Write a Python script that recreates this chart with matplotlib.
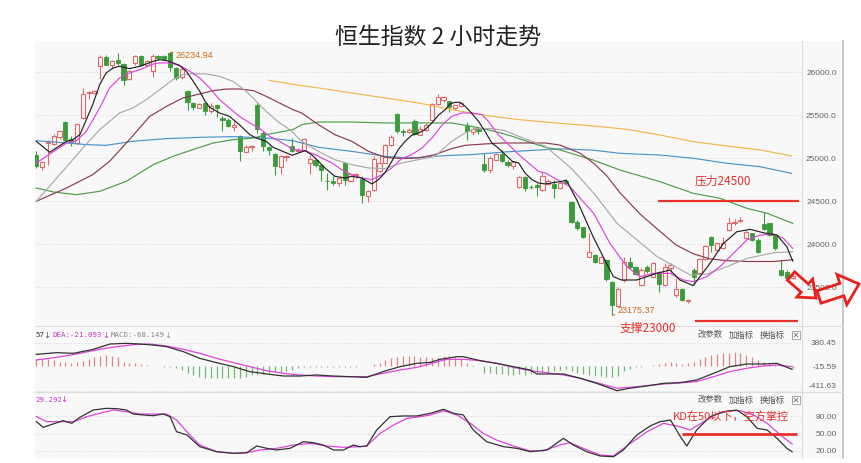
import numpy as np
import matplotlib
matplotlib.use('Agg')
import matplotlib.pyplot as plt
from matplotlib.patches import Rectangle, Polygon
from matplotlib.lines import Line2D

plt.rcParams['font.family'] = ['Liberation Sans', 'Noto Sans CJK SC', 'DejaVu Sans']
CJK = ['Noto Sans CJK SC', 'DejaVu Sans']

###########
# Candle data (2 hour bars)

opens = [25043, 24895, 25178, 25167, 25244, 25422, 25229, 25178, 25469, 25760,
         25760, 26070, 26174, 26081, 26147, 26097, 25926, 26109, 26186, 26081,
         26019, 26186, 26186, 26221, 26050, 25942, 25787, 25643, 25585, 25643,
         25554, 25616, 25469, 25450, 25361, 25256, 25074, 25128, 25616, 25295,
         25128, 25054, 24895, 25011, 25140, 25090, 25101, 24946, 24985, 24919,
         24740, 24733, 24713, 24946, 24733, 24806, 24764, 24558, 24636, 24849,
         24946, 25151, 25516, 25322, 25306, 25430, 25275, 25333, 25442, 25632,
         25682, 25663, 25585, 25605, 25372, 25306, 25345, 24934, 24868, 24984,
         25050, 24957, 24907, 24663, 24779, 24670, 24686, 24636, 24700, 24702,
         24651, 24740, 24496, 24264, 24198, 23857, 23876, 23787, 23818, 23566,
         23283, 23585, 23798, 23740, 23527, 23740, 23624, 23682, 23527, 23721,
         23411, 23477, 23345, 23702, 23671, 23826, 24081, 23934, 23953, 24166,
         24251, 24275, 24070, 24128, 24050, 24240, 24244, 24108, 23701, 23680,
         23610]
highs = [25081, 24965, 25217, 25283, 25326, 25430, 25256, 25411, 25818, 25783,
         25798, 26205, 26197, 26147, 26225, 26109, 26031, 26197, 26197, 26147,
         26213, 26197, 26197, 26234.94, 26058, 26050, 25798, 25655, 25643, 25655,
         25643, 25632, 25488, 25469, 25430, 25275, 25151, 25151, 25643, 25314,
         25140, 25062, 25035, 25035, 25237, 25120, 25237, 25043, 25004, 24934,
         24830, 24791, 24779, 24957, 24830, 24830, 24791, 24636, 25023, 25023,
         25167, 25275, 25527, 25345, 25353, 25461, 25372, 25411, 25643, 25748,
         25721, 25671, 25624, 25655, 25422, 25361, 25361, 25062, 25023, 25062,
         25101, 24984, 24973, 24791, 24791, 24686, 24713, 24841, 24760, 24748,
         24730, 24760, 24508, 24283, 24206, 24128, 23888, 23865, 23830, 23577,
         23500, 23857, 23857, 23748, 23721, 23760, 23798, 23694, 23779, 23787,
         23605, 23488, 23360, 23721, 23837, 23992, 24097, 24019, 24089, 24321,
         24291, 24314, 24167, 24136, 24070, 24380, 24250, 24115, 23817, 23700,
         23650]
lows = [24888, 24860, 24926, 25159, 25229, 25198, 25140, 25167, 25461, 25694,
        25748, 25926, 26081, 26043, 26089, 25849, 25915, 26081, 26070, 26070,
        25942, 26147, 26140, 26019, 25915, 25926, 25566, 25566, 25585, 25500,
        25527, 25477, 25322, 25361, 25322, 24973, 25070, 25090, 25295, 25081,
        25035, 24810, 24818, 24965, 25070, 25070, 25081, 24818, 24895, 24733,
        24636, 24694, 24674, 24686, 24725, 24771, 24481, 24489, 24624, 24841,
        24942, 25140, 25295, 25256, 25295, 25267, 25267, 25322, 25430, 25624,
        25655, 25539, 25566, 25593, 25217, 25275, 25283, 24841, 24829, 24980,
        24957, 24895, 24880, 24655, 24616, 24647, 24558, 24624, 24690, 24535,
        24640, 24700, 24244, 24167, 24070, 23849, 23787, 23780, 23577, 23175.37,
        23275, 23566, 23709, 23643, 23516, 23670, 23616, 23450, 23516, 23670,
        23391, 23345, 23322, 23527, 23663, 23818, 23915, 23926, 23942, 24159,
        24224, 24260, 24058, 24043, 23903, 24170, 24097, 23934, 23630, 23590,
        23600]
closes = [24907, 24957, 25190, 25256, 25314, 25213, 25190, 25399, 25748, 25775,
          25787, 26174, 26089, 26136, 26109, 25915, 26019, 26186, 26081, 26136,
          26186, 26167, 26159, 26058, 25934, 26043, 25655, 25593, 25632, 25547,
          25605, 25585, 25450, 25372, 25391, 25081, 25136, 25140, 25345, 25140,
          25101, 24907, 25023, 25031, 25081, 25101, 25225, 24996, 24926, 24868,
          24733, 24713, 24771, 24752, 24818, 24818, 24577, 24624, 24996, 24946,
          25151, 25248, 25314, 25310, 25333, 25283, 25341, 25391, 25632, 25709,
          25709, 25593, 25616, 25643, 25322, 25345, 25318, 24868, 25004, 25050,
          24965, 24919, 24957, 24779, 24655, 24663, 24663, 24791, 24740, 24651,
          24717, 24710, 24264, 24186, 24081, 23915, 23798, 23857, 23593, 23295,
          23477, 23798, 23733, 23655, 23702, 23694, 23779, 23539, 23740, 23760,
          23477, 23353, 23353, 23624, 23826, 23981, 23992, 24011, 24019, 24244,
          24264, 24283, 24147, 24050, 23915, 24180, 24108, 23953, 23643, 23604,
          23630]

###########
# Moving average lines (position in bars, value)

ma5_x = [0, 2.3, 5.2, 6.3, 7.5, 9.7, 10.9, 12.0, 13.2, 14.3, 16.0, 17.8, 20.1, 21.2, 22.4, 23.5,
         24.6, 25.8, 26.9, 28.1, 29.0, 29.8, 31.5, 33.2, 34.9, 36.7, 37.8, 39.5, 40.7, 43.0, 44.0,
         46.2, 47.3, 48.5, 49.6, 51.3, 53.1, 54.2, 55.9, 57.7, 58.8, 59.9, 61.1, 62.2, 63.4, 64.5,
         65.7, 66.8, 68.0, 69.1, 70.3, 71.1, 72.0, 72.8, 73.7, 74.8, 76.0, 77.1, 78.3, 79.4, 80.6,
         81.8, 82.9, 84.0, 85.2, 86.3, 87.5, 90.0, 91.1, 92.9, 95.7, 98.0, 99.2, 100.6, 103.2,
         104.6, 106.6, 108.9, 110.6, 112.9, 115.8, 118.1, 120.4, 122.7, 124.9, 127.3, 129.0, 130.0]
ma5_y = [25198, 25070, 25198, 25217, 25275, 25624, 25857, 25992, 26050, 26070, 26043, 26070,
         26128, 26147, 26136, 26109, 26081, 26012, 25903, 25779, 25663, 25593, 25527, 25488,
         25391, 25275, 25236, 25198, 25128, 25062, 25035, 25089, 25043, 24965, 24888, 24791,
         24771, 24791, 24771, 24702, 24752, 24829, 24965, 25101, 25198, 25267, 25295, 25333,
         25411, 25500, 25566, 25632, 25651, 25651, 25605, 25527, 25430, 25314, 25178, 25120,
         25043, 24965, 24946, 24829, 24752, 24713, 24702, 24728, 24745, 24515, 24088, 23779,
         23623, 23585, 23585, 23616, 23662, 23701, 23585, 23520, 23779, 24011, 24146, 24174,
         24135, 24108, 23972, 23805]

ma10_x = [0, 5.2, 6.9, 8.6, 10.9, 12.6, 14.3, 16.0, 17.8, 20.1, 21.2, 22.9, 24.6, 26.4, 28.1,
          29.8, 31.5, 33.2, 34.9, 36.7, 38.4, 40.1, 41.8, 43.5, 44.5, 46.2, 48.5, 50.8, 52.5,
          54.2, 56.0, 57.7, 59.4, 61.1, 62.8, 64.5, 66.3, 68.0, 69.8, 71.4, 73.1, 74.8, 76.6,
          77.7, 79.4, 81.2, 82.9, 84.6, 86.3, 87.5, 91.7, 95.8, 98.6, 101.5, 103.8, 106.0,
          108.9, 111.2, 112.9, 115.2, 117.5, 119.8, 122.1, 124.4, 126.7, 128.4, 130.0]
ma10_y = [24946, 25178, 25205, 25314, 25585, 25818, 25934, 25992, 26031, 26097, 26109, 26109,
          26081, 26012, 25934, 25818, 25682, 25585, 25488, 25411, 25345, 25256, 25198, 25128,
          25101, 25089, 25023, 24946, 24868, 24810, 24771, 24752, 24810, 24888, 24996, 25043,
          25120, 25236, 25391, 25488, 25527, 25527, 25508, 25430, 25275, 25159, 25043, 24946,
          24849, 24829, 24670, 24360, 24011, 23740, 23623, 23662, 23662, 23585, 23566, 23623,
          23740, 23895, 24050, 24108, 24120, 24070, 23953]

ma20_x = [0, 5.2, 8.0, 10.9, 14.3, 16.6, 18.9, 21.2, 23.5, 25.2, 26.9, 29.2, 31.5, 33.8, 36.1,
          37.8, 39.5, 41.8, 42.8, 44.1, 45.6, 48.5, 51.3, 54.2, 57.1, 59.9, 62.8, 65.7, 68.5,
          71.4, 73.7, 75.4, 78.3, 80.6, 82.9, 85.2, 87.5, 92.0, 96.0, 99.8, 106.7, 112.4,
          115.3, 118.7, 122.2, 126.8, 130.0]
ma20_y = [24500, 24900, 25120, 25333, 25527, 25585, 25682, 25798, 25915, 25973, 25984, 25981,
          25953, 25895, 25779, 25663, 25547, 25411, 25370, 25300, 25198, 25081, 24984, 24926,
          24888, 24880, 24946, 24984, 25023, 25198, 25295, 25345, 25345, 25322, 25256, 25198,
          25140, 24880, 24580, 24244, 23857, 23643, 23655, 23740, 23837, 23903, 23914]

ma30_x = [0, 5.2, 9.7, 12.6, 16.0, 19.5, 22.4, 25.2, 28.1, 30.4, 32.7, 35.0, 37.3, 39.5, 41.8,
          44.1, 45.6, 48.5, 51.3, 54.2, 57.1, 59.9, 62.8, 65.7, 68.5, 71.4, 73.7, 77.1, 80.0,
          82.9, 85.2, 87.5, 90.0, 93.5, 95.8, 98.0, 100.3, 103.8, 107.2, 110.0, 112.9, 115.8,
          118.7, 122.1, 126.7, 130.0]
ma30_y = [24500, 24655, 24810, 24965, 25217, 25488, 25605, 25702, 25748, 25787, 25806, 25806,
          25787, 25721, 25643, 25566, 25527, 25391, 25275, 25198, 25081, 25012, 24996, 25004,
          25043, 25113, 25151, 25167, 25178, 25178, 25178, 25178, 25154, 25058, 24942, 24800,
          24600, 24350, 24150, 23990, 23890, 23830, 23810, 23800, 23800, 23820]

ma60_x = [0, 2.9, 6.9, 10.9, 15.5, 20.1, 23.5, 26.9, 30.4, 33.8, 37.3, 39.5, 44.1, 45.6, 48.5,
          54.2, 59.9, 65.7, 71.4, 74.8, 78.3, 81.8, 85.2, 87.5, 90.0, 95.7, 100.3, 107.2,
          112.9, 117.5, 122.1, 125.6, 130.0]
ma60_y = [24655, 24609, 24577, 24616, 24733, 24926, 25023, 25101, 25178, 25217, 25236, 25275,
          25333, 25391, 25422, 25422, 25411, 25411, 25411, 25372, 25322, 25256, 25178, 25128,
          25097, 24980, 24864, 24728, 24593, 24535, 24419, 24361, 24244]

ma120_x = [0, 5.2, 8.6, 12.0, 16.6, 22.4, 28.1, 33.8, 39.5, 44.1, 48.5, 54.2, 59.9, 64.3, 70.3,
           74.8, 80.6, 87.5, 90.0, 95.7, 100.3, 107.2, 112.9, 118.7, 124.4, 129.8]
ma120_y = [25205, 25178, 25159, 25151, 25198, 25229, 25244, 25252, 25236, 25205, 25128, 25081,
           25023, 25004, 25031, 25043, 25074, 25101, 25110, 25095, 25058, 25038, 25000, 24942,
           24902, 24825]

ma250_x = [40.0, 44.1, 48.5, 54.2, 59.9, 65.7, 68.5, 71.4, 77.1, 82.9, 87.5, 90.0, 95.7, 101.5,
           107.2, 112.9, 118.7, 124.4, 129.8]
ma250_y = [25907, 25860, 25818, 25760, 25702, 25643, 25605, 25566, 25500, 25450, 25422, 25407,
           25376, 25337, 25271, 25193, 25143, 25097, 25027]

###########
# MACD panel

dif_x = [0, 3.5, 6.4, 9.8, 12.7, 15.5, 17.8, 20.1, 22.4, 25.3, 28.1, 31.0, 33.9, 36.7, 39.6,
         42.5, 45.3, 48.2, 51.0, 53.9, 56.8, 59.6, 62.5, 65.4, 67.7, 69.4, 72.3, 73.4, 76.3,
         79.1, 82.0, 84.9, 86.0, 90.6, 93.5, 96.3, 99.8, 101.9, 104.9, 107.8, 110.6, 113.5,
         116.4, 119.2, 122.1, 124.9, 127.3, 129.9]
dif_y = [192, 220, 209, 275, 363, 374, 363, 346, 319, 236, 126, 55, -11, -93, -132, -165, -165,
         -148, -165, -176, -187, -93, -11, 44, 60, 110, 154, 154, 88, 44, -11, -66, -132, -132,
         -203, -286, -407, -368, -330, -286, -275, -231, -121, -11, 33, 33, 44, -55]

dea_x = [0, 3.5, 6.9, 10.9, 13.8, 16.7, 19.5, 22.4, 25.3, 28.1, 31.0, 33.9, 36.7, 39.6, 42.5,
         45.3, 48.2, 51.0, 53.9, 56.8, 59.6, 62.5, 65.4, 67.7, 70.5, 73.4, 76.3, 79.1, 82.0,
         84.9, 87.7, 90.6, 93.5, 96.3, 99.8, 103.2, 107.8, 111.2, 113.5, 116.4, 119.2, 122.1,
         124.9, 127.3, 129.9]
dea_y = [99, 143, 198, 275, 319, 352, 363, 330, 275, 209, 126, 55, -11, -77, -121, -148, -165,
         -176, -176, -176, -121, -66, -22, 36, 110, 110, 88, 44, -22, -77, -110, -148, -203,
         -275, -368, -341, -297, -275, -258, -176, -93, -38, 0, 16, -11]

macd_hist = [110, 110, 110, 99, 71.5, 71.5, 55, 71.5, 88, 110,
             143, 165, 181.5, 165, 143, 71.5, 55, 44, 27.5, 11,
             5, 0, -11, -22, -38.5, -66, -110, -148.5, -187, -203.5,
             -203.5, -203.5, -203.5, -203.5, -203.5, -203.5, -187, -148.5, -132, -110,
             -110, -93.5, -93.5, -77, -66, -38.5, -22, -22, -16.5, -16.5,
             -16.5, -16.5, -16.5, -16.5, -16.5, -11, -5.5, 5.5, 27.5, 55,
             99, 126.5, 143, 165, 165, 165, 154, 143, 126.5, 154,
             165, 165, 143, 110, 55, 16.5, 0, -110, -121, -132,
             -132, -148.5, -148.5, -132, -148.5, -132, -121, -93.5, -110, -77,
             -66, -55, -77, -110, -132, -148.5, -165, -165, -187, -187,
             -165, -77, -55, -22, -11, 0, 16.5, 27.5, 55, 71.5,
             44, 33, 44, 71.5, 110, 154, 181.5, 198, 209, 220,
             231, 220, 181.5, 143, 99, 71.5, 44, 27.5, 16.5, 0, -30]

###########
# KD panel

k_x = [0, 1.2, 2.9, 4.6, 6.1, 7.5, 9.8, 12.1, 13.8, 15.5, 16.7, 18.4, 20.1, 21.8, 23.0, 24.1,
       25.9, 28.1, 31.0, 33.9, 36.2, 37.9, 39.6, 41.3, 43.6, 45.9, 47.6, 49.3, 51.1, 52.8, 54.5,
       55.6, 56.8, 58.5, 60.8, 63.1, 65.4, 67.7, 70.0, 71.7, 73.4, 75.1, 77.4, 80.3, 82.6, 84.9,
       87.8, 90.6, 92.3, 94.6, 96.9, 99.2, 100.9, 103.2, 105.5, 107.2, 109.0, 110.7, 111.8,
       113.5, 115.8, 118.1, 120.4, 122.1, 123.9, 125.6, 127.3, 129.0, 129.9]
k_y = [71.0, 61.2, 67.0, 72.8, 68.1, 78.6, 91.3, 94.2, 93.6, 91.3, 84.3, 82.6, 81.4, 84.3, 79.7,
       53.6, 47.8, 27.5, 18.8, 15.9, 17.1, 28.7, 24.6, 21.7, 24.6, 36.2, 34.5, 30.4, 21.7, 21.7,
       30.4, 27.5, 28.7, 56.5, 79.7, 80.9, 80.9, 85.5, 92.5, 85.5, 82.6, 56.5, 36.2, 27.5, 24.6,
       18.8, 21.7, 42.0, 30.4, 18.8, 11.3, 10.1, 21.7, 47.8, 63.5, 71.0, 73.9, 44.9, 28.7, 56.5,
       79.7, 88.4, 91.3, 79.7, 59.4, 56.5, 42.0, 24.6, 18.8]

d_x = [0, 1.8, 4.1, 6.4, 8.7, 10.9, 13.2, 15.5, 17.8, 20.1, 22.4, 24.1, 26.4, 28.1, 31.0, 33.9,
       36.2, 38.5, 41.3, 44.2, 47.1, 49.9, 52.8, 55.6, 56.8, 59.1, 61.4, 63.7, 66.0, 67.7, 70.0,
       72.3, 74.6, 76.8, 79.1, 82.0, 84.9, 87.2, 90.0, 91.7, 94.0, 96.9, 99.2, 102.1, 105.0,
       107.8, 110.1, 112.4, 114.7, 117.0, 119.2, 121.0, 123.3, 125.6, 127.9, 129.9]
d_y = [79.7, 71.0, 71.0, 71.0, 79.7, 85.5, 91.3, 88.4, 84.3, 84.3, 84.3, 73.9, 47.8, 30.4, 18.8,
       15.9, 17.1, 21.7, 24.6, 30.4, 33.3, 28.7, 26.4, 27.5, 28.7, 50.7, 65.2, 76.8, 79.7, 82.6,
       90.1, 82.6, 68.1, 50.7, 39.1, 28.7, 20.0, 20.6, 30.4, 34.5, 24.6, 13.0, 11.3, 33.3, 53.6,
       68.1, 63.5, 56.5, 71.0, 84.3, 90.1, 90.1, 82.6, 68.1, 47.8, 32.2]

price_ticks = [26000, 25500, 25000, 24500, 24000, 23500]
price_labels = ['26000.0', '25500.0', '25000.0', '24500.0', '24000.0', '23500.0']
macd_labels = ['380.45', '-15.59', '-411.63']
kd_ticks = [80, 50, 20]
kd_labels = ['80.00', '50.00', '20.00']

###########
# Layout (pixel helpers)

W, H = 862, 463
BG = '#f8f8f8'
RED = '#e0686b'
GREEN = '#3a9b3a'
MARK = '#e8302c'

fig = plt.figure(figsize=(W / 100, H / 100), dpi=100)


def fx(px):
    return px / W


def fy(py):
    return 1 - py / H


def panel(top, bottom):
    ax = fig.add_axes([fx(35), fy(bottom), fx(802) - fx(35), (bottom - top) / H])
    ax.set_facecolor(BG)
    for s in ax.spines.values():
        s.set_visible(False)
    ax.set_xlim(-0.22, 131.6)
    ax.set_xticks([])
    ax.yaxis.tick_right()
    ax.tick_params(axis='y', length=0, pad=25, labelsize=6, labelcolor='#666666')
    return ax


# chart background incl. the right label strip (drawn beneath the axes)
fig.patches.append(Rectangle((fx(35), fy(458)), fx(843) - fx(35), (458 - 41) / H,
                             transform=fig.transFigure, facecolor=BG, edgecolor='none',
                             zorder=-5))

ax = panel(41, 326)
ax_macd = panel(326, 392)
ax_kd = panel(392, 458)

# frame lines
for xx, col, lw in [(802, '#dddddd', 0.8), (843, '#c8c8c8', 1.4)]:
    fig.add_artist(Line2D([fx(xx), fx(xx)], [fy(41), fy(458)], transform=fig.transFigure,
                          color=col, lw=lw, zorder=1))
for yy in [326, 392]:
    fig.add_artist(Line2D([fx(35), fx(843)], [fy(yy), fy(yy)], transform=fig.transFigure,
                          color='#dcdcdc', lw=0.8, zorder=1))

###########
# Main price panel

ax.set_ylim(23050, 26364)
ax.set_yticks(price_ticks, price_labels)
for v in price_ticks:
    ax.axhline(v, color='#d4d4d4', lw=0.7, ls=(0, (1, 2)), zorder=1)

o = np.array(opens)
h = np.array(highs)
l = np.array(lows)
c = np.array(closes)
idx = np.arange(len(o))
up = c >= o
cols = np.where(up, RED, GREEN)

ax.vlines(idx, l, h, colors=cols, lw=0.8, zorder=3)
body = np.maximum(np.abs(c - o), 8)
ax.bar(idx[up], body[up], bottom=np.minimum(o, c)[up], width=0.72,
       facecolor=BG, edgecolor=RED, linewidth=0.8, zorder=4)
ax.bar(idx[~up], body[~up], bottom=np.minimum(o, c)[~up], width=0.72,
       facecolor=GREEN, edgecolor=GREEN, linewidth=0.6, zorder=4)

ax.plot(ma250_x, ma250_y, color='#f2b84b', lw=0.85, zorder=5)
ax.plot(ma120_x, ma120_y, color='#4a94c8', lw=0.85, zorder=5)
ax.plot(ma60_x, ma60_y, color='#4c9e4c', lw=0.85, zorder=5)
ax.plot(ma30_x, ma30_y, color='#8c3b4b', lw=0.85, zorder=5)
ax.plot(ma20_x, ma20_y, color='#aaaaaa', lw=0.85, zorder=5)
ax.plot(ma10_x, ma10_y, color='#dd44dd', lw=0.85, zorder=6)
ax.plot(ma5_x, ma5_y, color='#222222', lw=0.85, zorder=7)

# extreme labels
ax.annotate('26234.94', xy=(23.0, 26234.94), xytext=(24.0, 26190), color='#d2691e',
            fontsize=6.5, va='center', ha='left', zorder=8,
            arrowprops=dict(arrowstyle='-', color='#d2691e', lw=0.7, shrinkA=0, shrinkB=0))
ax.annotate('23175.37', xy=(99.0, 23175.37), xytext=(99.9, 23236), color='#d2691e',
            fontsize=6.5, va='center', ha='left', zorder=8,
            arrowprops=dict(arrowstyle='-', color='#d2691e', lw=0.7, shrinkA=0, shrinkB=0))

# pressure / support marks
ax.hlines(24500, 106.9, 131.1, color=MARK, lw=1.6, zorder=8, clip_on=False)
ax.hlines(23110, 113.2, 130.9, color=MARK, lw=1.6, zorder=8, clip_on=False)
fig.text(fx(723), fy(181), '压力24500', color=MARK, fontsize=8.5, family=CJK,
         ha='center', va='center')
fig.text(fx(648), fy(328), '支撑23000', color=MARK, fontsize=8.5, family=CJK,
         ha='center', va='center', zorder=10)

###########
# MACD panel

ax_macd.set_ylim(-429, 660)
ax_macd.set_yticks([380.45, -15.59, -330], macd_labels)
for v in [380.45, -411.63]:
    ax_macd.axhline(v, color='#d4d4d4', lw=0.7, ls=(0, (1, 2)), zorder=1)
hx = np.arange(len(macd_hist))
hv = np.array(macd_hist)
ax_macd.vlines(hx, 0, hv, colors=np.where(hv >= 0, '#e08585', '#74b874'), lw=0.9, zorder=2)
ax_macd.plot(dea_x, dea_y, color='#dd44dd', lw=0.9, zorder=3)
ax_macd.plot(dif_x, dif_y, color='#333333', lw=0.9, zorder=4)

mono = ['DejaVu Sans Mono']
fig.text(fx(35), fy(335), '57', color='#333333', fontsize=5.3, family=mono, va='center')
fig.text(fx(47), fy(335), '↓', color='#555555', fontsize=6, family=['DejaVu Sans'],
         va='center', ha='center')
fig.text(fx(53), fy(335), 'DEA:-21.093', color='#cc33cc', fontsize=5.3, family=mono,
         va='center')
fig.text(fx(106), fy(335), '↓', color='#cc33cc', fontsize=6, family=['DejaVu Sans'],
         va='center', ha='center')
fig.text(fx(111), fy(335), 'MACD:-68.149', color='#888888', fontsize=5.3, family=mono,
         va='center')
fig.text(fx(168), fy(335), '↓', color='#999999', fontsize=6, family=['DejaVu Sans'],
         va='center', ha='center')

###########
# KD panel

ax_kd.set_ylim(7.8, 122.6)
ax_kd.set_yticks(kd_ticks, kd_labels)
for v in kd_ticks:
    ax_kd.axhline(v, color='#d4d4d4', lw=0.7, ls=(0, (1, 2)), zorder=1)
ax_kd.plot(d_x, d_y, color='#dd44dd', lw=0.9, zorder=3)
ax_kd.plot(k_x, k_y, color='#333333', lw=0.9, zorder=4)
ax_kd.hlines(49, 110.9, 130.7, color=MARK, lw=2.0, zorder=5)
fig.text(fx(731), fy(417), 'KD在50以下，空方掌控', color=MARK, fontsize=8, family=CJK,
         ha='center', va='center')
fig.text(fx(35), fy(400), '29.292', color='#cc33cc', fontsize=5.3, family=mono, va='center')
fig.text(fx(64), fy(400), '↓', color='#cc33cc', fontsize=6, family=['DejaVu Sans'],
         va='center', ha='center')

for a in (ax, ax_macd, ax_kd):
    for t in a.get_yticklabels():
        t.set_horizontalalignment('right')

# panel tool links
for yy in [335, 400]:
    for xx, s in [(698, '改参数'), (729, '加指标'), (760, '换指标')]:
        fig.text(fx(xx), fy(yy), s, color='#555555', fontsize=6, family=CJK, va='center')
    fig.patches.append(Rectangle((fx(792), fy(yy + 4)), fx(8), 8 / H, transform=fig.transFigure,
                                 facecolor='white', edgecolor='#999999', lw=0.6, zorder=2))
    fig.add_artist(Line2D([fx(794), fx(798)], [fy(yy - 2), fy(yy + 2)],
                          transform=fig.transFigure, color='#777777', lw=0.6, zorder=3))
    fig.add_artist(Line2D([fx(794), fx(798)], [fy(yy + 2), fy(yy - 2)],
                          transform=fig.transFigure, color='#777777', lw=0.6, zorder=3))

###########
# Title and hollow arrows


def block_arrow(tail, tip, body_hw, head_hw, head_len):
    t = np.array(tail, float)
    d = np.array(tip, float) - t
    L = np.hypot(*d)
    d = d / L
    n = np.array([-d[1], d[0]])
    local = [(0, -body_hw), (L - head_len, -body_hw), (L - head_len, -head_hw), (L, 0),
             (L - head_len, head_hw), (L - head_len, body_hw), (0, body_hw)]
    pts = [t + u * d + v * n for u, v in local]
    return [(fx(p[0]), fy(p[1])) for p in pts]


for tail, tip, bw, hw, hl in [((791, 276), (816, 298), 5.5, 12, 15),
                              ((819, 297), (859, 284), 6.5, 16, 18)]:
    fig.patches.append(Polygon(block_arrow(tail, tip, bw, hw, hl), closed=True,
                               transform=fig.transFigure, fill=False, edgecolor='#e8201c',
                               lw=2.0, zorder=20))

fig.text(fx(438), fy(37), '恒生指数 2 小时走势', color='#222222', fontsize=16.5, family=CJK,
         weight='light', ha='center', va='center', zorder=30)

fig.savefig('out.png', dpi=100, facecolor='white')
